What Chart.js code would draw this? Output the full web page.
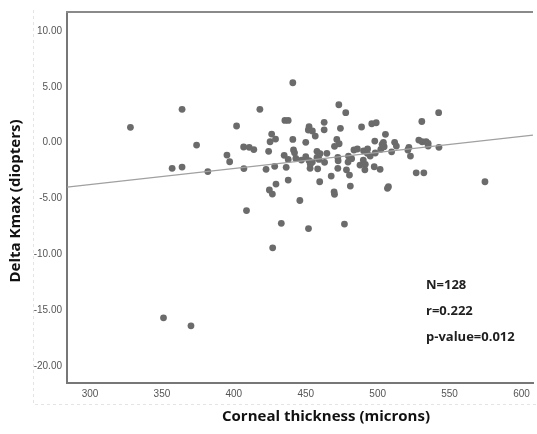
<!DOCTYPE html>
<html>
<head>
<meta charset="utf-8">
<script src="https://cdn.jsdelivr.net/npm/chart.js@4/dist/chart.umd.min.js"></script>
<style>
    html, body { margin: 0; padding: 0; background: #fff; }
    #wrap { width: 537px; height: 434px; }
</style>
</head>
<body>
<div id="wrap"><canvas id="scatter-chart"></canvas></div>
<script>
// values
let thickness = [
    328.1, 364.0, 364.0, 357.1, 374.1, 381.9, 401.9, 395.2, 397.1, 406.8,
    410.7, 413.9, 407.0, 418.1, 408.8, 351.1, 370.2, 445.9, 433.0, 451.9,
    476.9, 427.0, 441.0, 473.0, 477.8, 435.5, 437.8, 462.8, 462.8, 452.3,
    451.8, 454.6, 426.3, 456.6, 429.0, 425.2, 441.0, 450.0, 474.1, 488.8,
    495.9, 499.0, 505.4, 498.0, 471.6, 473.2, 470.0, 424.2, 441.5, 442.2,
    435.0, 457.8, 459.9, 464.7, 457.8, 450.0, 447.0, 437.8, 443.1, 452.3,
    454.6, 459.2, 463.1, 472.3, 472.5, 479.7, 481.9, 479.4, 483.5, 485.9,
    490.2, 493.0, 494.8, 492.8, 498.3, 502.2, 504.5, 490.0, 487.7, 491.4,
    491.1, 497.6, 501.7, 422.4, 428.4, 436.4, 453.0, 453.2, 458.3, 472.3,
    478.3, 467.7, 480.4, 459.7, 437.8, 429.3, 481.0, 424.7, 426.8, 469.7,
    470.0, 542.4, 530.7, 528.6, 530.9, 533.7, 535.1, 535.1, 542.6, 511.8,
    513.0, 503.1, 504.0, 509.7, 521.7, 521.0, 522.8, 526.8, 532.1, 507.5,
    506.8, 574.6
];
let deltaKmax = [
    1.38, 2.99, -2.18, -2.29, -0.21, -2.58, 1.50, -1.10, -1.70, -0.38,
    -0.41, -0.61, -2.31, 2.99, -6.07, -15.67, -16.38, -5.17, -7.21, -7.68,
    -7.28, -9.40, 5.37, 3.40, 2.69, 2.00, 2.00, 1.83, 1.16, 1.43,
    1.14, 1.05, 0.78, 0.60, 0.33, 0.09, 0.30, 0.04, 1.29, 1.41,
    1.70, 1.79, 0.75, 0.15, 0.30, -0.09, -0.32, -0.77, -0.65, -0.90,
    -1.13, -0.77, -0.98, -0.95, -1.31, -1.25, -1.55, -1.49, -1.40, -1.61,
    -1.73, -1.49, -1.75, -1.31, -1.61, -1.19, -1.43, -1.73, -0.65, -0.56,
    -0.72, -0.56, -1.19, -0.95, -0.92, -0.59, -0.36, -1.55, -2.00, -1.93,
    -2.42, -2.15, -2.38, -2.38, -2.11, -2.20, -2.29, -1.93, -2.33, -2.29,
    -2.42, -2.98, -2.89, -3.49, -3.34, -3.70, -3.88, -4.23, -4.59, -4.39,
    -4.62, 2.69, 1.90, 0.24, 0.09, 0.09, -0.05, -0.30, -0.41, 0.04,
    -0.30, -0.14, 0.04, -0.81, -0.41, -0.65, -1.19, -2.69, -2.69, -3.94,
    -4.08, -3.49
];
// fit line end points
let fitX = [284, 608];
let fitY = [-3.97, 0.69];

let xTicks = [300, 350, 400, 450, 500, 550, 600];
let yTicks = [-20, -15, -10, -5, 0, 5, 10];
let statLines = ['N=128', 'r=0.222', 'p-value=0.012'];
let xTitle = 'Corneal thickness (microns)';
let yTitle = 'Delta Kmax (diopters)';

let chart;

let framePlugin = {
    id: 'frame',
    beforeDraw(c) {
        let ctx = c.ctx;
        let a = c.chartArea;
        // faint dashed outer frame
        ctx.save();
        ctx.strokeStyle = '#e4e4e4';
        ctx.lineWidth = 1;
        ctx.setLineDash([3, 3]);
        ctx.beginPath();
        ctx.moveTo(33.5, 10);
        ctx.lineTo(33.5, 404.5);
        ctx.lineTo(537, 404.5);
        ctx.stroke();
        ctx.restore();
    },
    afterDraw(c) {
        let ctx = c.ctx;
        let a = c.chartArea;
        ctx.save();
        // top border
        ctx.strokeStyle = '#8a8a8a';
        ctx.lineWidth = 2;
        ctx.beginPath();
        ctx.moveTo(a.left - 1, a.top);
        ctx.lineTo(a.right, a.top);
        ctx.stroke();

        // stats text
        ctx.fillStyle = '#1e1e1e';
        ctx.font = 'bold 13px "Open Sans"';
        ctx.textAlign = 'left';
        ctx.textBaseline = 'middle';
        for (let i = 0; i < statLines.length; i++) {
            ctx.fillText(statLines[i], 426, 285 + i * 26);
        }

        // axis titles
        ctx.font = 'bold 15px "Open Sans"';
        ctx.fillStyle = '#111';
        ctx.textAlign = 'center';
        ctx.fillText(xTitle, 326, 417);
        ctx.translate(16, 201);
        ctx.rotate(-Math.PI / 2);
        ctx.fillText(yTitle, 0, 0);
        ctx.restore();
    }
};

function buildChart() {
    let ctx = document.getElementById('scatter-chart').getContext('2d');
    let points = thickness.map((x, i) => ({ x: x, y: deltaKmax[i] }));
    let line = fitX.map((x, i) => ({ x: x, y: fitY[i] }));

    chart = new Chart(ctx, {
        type: 'scatter',
        data: {
            datasets: [{
                label: 'Fit',
                data: line,
                showLine: true,
                borderColor: '#a0a0a0',
                borderWidth: 1.2,
                pointRadius: 0,
                fill: false
            }, {
                label: 'Patients',
                data: points,
                backgroundColor: '#6b6b6b',
                borderWidth: 0,
                pointRadius: 3.4
            }]
        },
        options: {
            responsive: true,
            maintainAspectRatio: false,
            animation: false,
            layout: { padding: { top: 12, left: 0, right: 0, bottom: 0 } },
            plugins: {
                legend: { display: false },
                tooltip: { enabled: false }
            },
            scales: {
                x: {
                    type: 'linear',
                    min: 284,
                    max: 608,
                    grid: { display: false, drawTicks: false },
                    border: { display: true, color: '#777', width: 2 },
                    afterBuildTicks: s => { s.ticks = xTicks.map(v => ({ value: v })); },
                    afterFit: s => { s.height = 51; },
                    ticks: {
                        padding: 5,
                        color: '#555',
                        font: { family: 'Liberation Sans', size: 10 },
                        maxRotation: 0
                    }
                },
                y: {
                    type: 'linear',
                    min: -21.5,
                    max: 11.7,
                    grid: { display: false, drawTicks: false },
                    border: { display: true, color: '#777', width: 2 },
                    afterBuildTicks: s => { s.ticks = yTicks.map(v => ({ value: v })); },
                    afterFit: s => { s.width = 67; },
                    ticks: {
                        padding: 5,
                        color: '#555',
                        font: { family: 'Liberation Sans', size: 10 },
                        callback: v => Number(v).toFixed(2)
                    }
                }
            }
        },
        plugins: [framePlugin]
    });
}

buildChart();
</script>
</body>
</html>
